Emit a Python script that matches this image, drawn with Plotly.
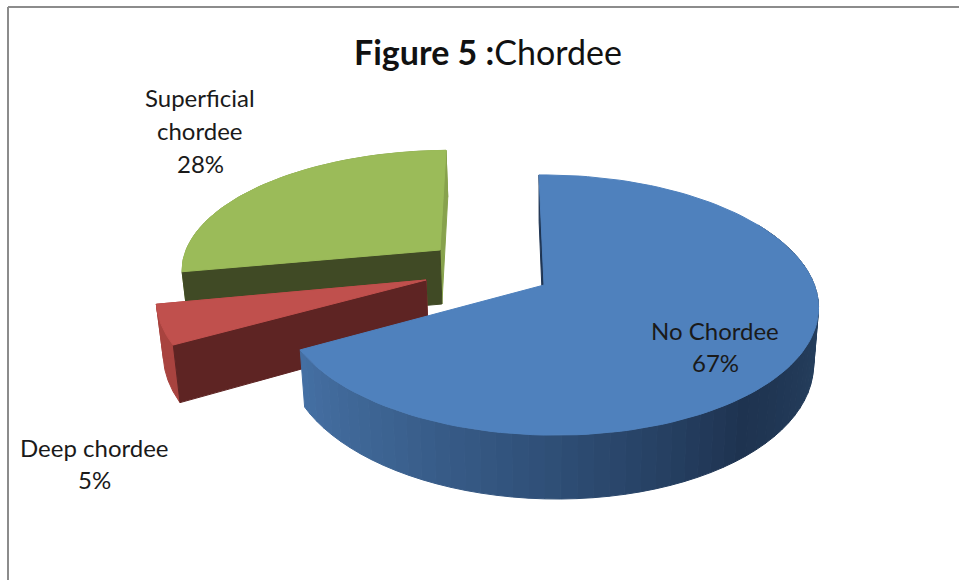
import math
import plotly.graph_objects as go

# Data
categories = ["No Chordee", "Deep chordee", "Superficial chordee"]
values = [67, 5, 28]
label_lines = [["No Chordee", "67%"], ["Deep chordee", "5%"], ["Superficial", "chordee", "28%"]]

# Style and projection of each exploded slice
top_colors = ["#4F81BD", "#C0504D", "#9BBB59"]
cut_colors = [None, "#5E2423", "#404A25"]
edge_colors = ["#1F3553", "#A8433F", "#87A24C"]
apex = [(544, 285), (426, 280), (440, 250)]
radii = [(265, 127), (272, 128), (259, 115)]
lean = [5, 0, -6]
label_pos = [(715, 330, 32), (94, 447, 32), (200, 97, 33)]
K, M, DEPTH, CONVERGE, VX = 0.154, 0.02, 54, 0.018, 545
BLUE_STOPS = [(60, "#25405F"), (100, "#26405F"), (140, "#1E3350"), (180, "#2F4F77"), (215, "#3D6493"), (242, "#4570A5")]


def project(i, deg, r=1.0, low=False):
    t = math.radians(deg)
    u, v = r * math.sin(t), -r * math.cos(t)
    s = 1 / (1 - K * v - M * u)
    x = apex[i][0] + radii[i][0] * u * s + lean[i] * v
    y = apex[i][1] + radii[i][1] * v * s
    if low:
        x += CONVERGE * (VX - x)
        y += DEPTH * s
    return x, y


def poly(points, color):
    xs, ys = zip(*points)
    return go.Scatter(x=list(xs) + [xs[0]], y=list(ys) + [ys[0]], mode="lines", fill="toself",
                      fillcolor=color, line=dict(color=color, width=1), hoverinfo="skip", showlegend=False)


def mix(deg):
    for (a, ca), (b, cb) in zip(BLUE_STOPS, BLUE_STOPS[1:]):
        if a <= deg <= b:
            f = (deg - a) / (b - a)
            ra = [int(ca[j:j + 2], 16) for j in (1, 3, 5)]
            rb = [int(cb[j:j + 2], 16) for j in (1, 3, 5)]
            return "#%02x%02x%02x" % tuple(round(p + (q - p) * f) for p, q in zip(ra, rb))
    return BLUE_STOPS[-1][1]


total = sum(values)
spans = []
acc = 0
for val in values:
    spans.append((acc * 360 / total, (acc + val) * 360 / total))
    acc += val


def arc(i, a, b, low=False, n=60):
    return [project(i, a + (b - a) * k / n, low=low) for k in range(n + 1)]


fig = go.Figure()

for i in (2, 1, 0):
    a, b = spans[i]
    centre = project(i, 0, 0.0)
    centre_low = project(i, 0, 0.0, low=True)
    if i == 0:
        # thin wall at the start of the slice, then the shaded outer wall
        fig.add_trace(poly([project(0, a), centre, centre_low, project(0, a, low=True)], edge_colors[0]))
        steps = 60
        start = 60
        for k in range(steps):
            d0 = start + (b - start) * k / steps
            d1 = start + (b - start) * (k + 1) / steps
            fig.add_trace(poly([project(0, d0), project(0, d1), project(0, d1, low=True), project(0, d0, low=True)],
                               mix((d0 + d1) / 2)))
    else:
        outer = arc(i, a, b)
        fig.add_trace(poly(outer + arc(i, a, b, low=True)[::-1], edge_colors[i]))
        # wall at the far end of the slice
        fig.add_trace(poly([project(i, b), centre, centre_low, project(i, b, low=True)], edge_colors[i]))
        # cut face towards the viewer
        fig.add_trace(poly([project(i, a), centre, centre_low, project(i, a, low=True)], cut_colors[i]))
    fig.add_trace(poly([centre] + arc(i, a, b, n=120), top_colors[i]))

annotations = []
for lines, (x, y, step) in zip(label_lines, label_pos):
    for k, line in enumerate(lines):
        annotations.append(dict(x=x, y=y + k * step, text=line, showarrow=False, xref="x", yref="y",
                                font=dict(family="Lato", size=24, color="#1a1a1a")))
annotations.append(dict(x=488, y=51, xref="x", yref="y", showarrow=False,
                        text="<b>Figure 5 :</b>Chordee",
                        font=dict(family="Lato", size=34, color="#111111")))

frame = [
    dict(type="line", x0=8, y0=7, x1=8, y1=580),
    dict(type="line", x0=8, y0=7, x1=959, y1=7),
]
for s in frame:
    s.update(xref="x", yref="y", line=dict(color="#8C8C8C", width=2))

fig.update_layout(
    width=959, height=580, margin=dict(l=0, r=0, t=0, b=0),
    paper_bgcolor="white", plot_bgcolor="white", showlegend=False,
    xaxis=dict(range=[0, 959], visible=False, fixedrange=True),
    yaxis=dict(range=[580, 0], visible=False, fixedrange=True),
    annotations=annotations, shapes=frame,
)
fig.write_html("out.html", config={"displayModeBar": False}, post_script="document.body.style.margin='0';")
